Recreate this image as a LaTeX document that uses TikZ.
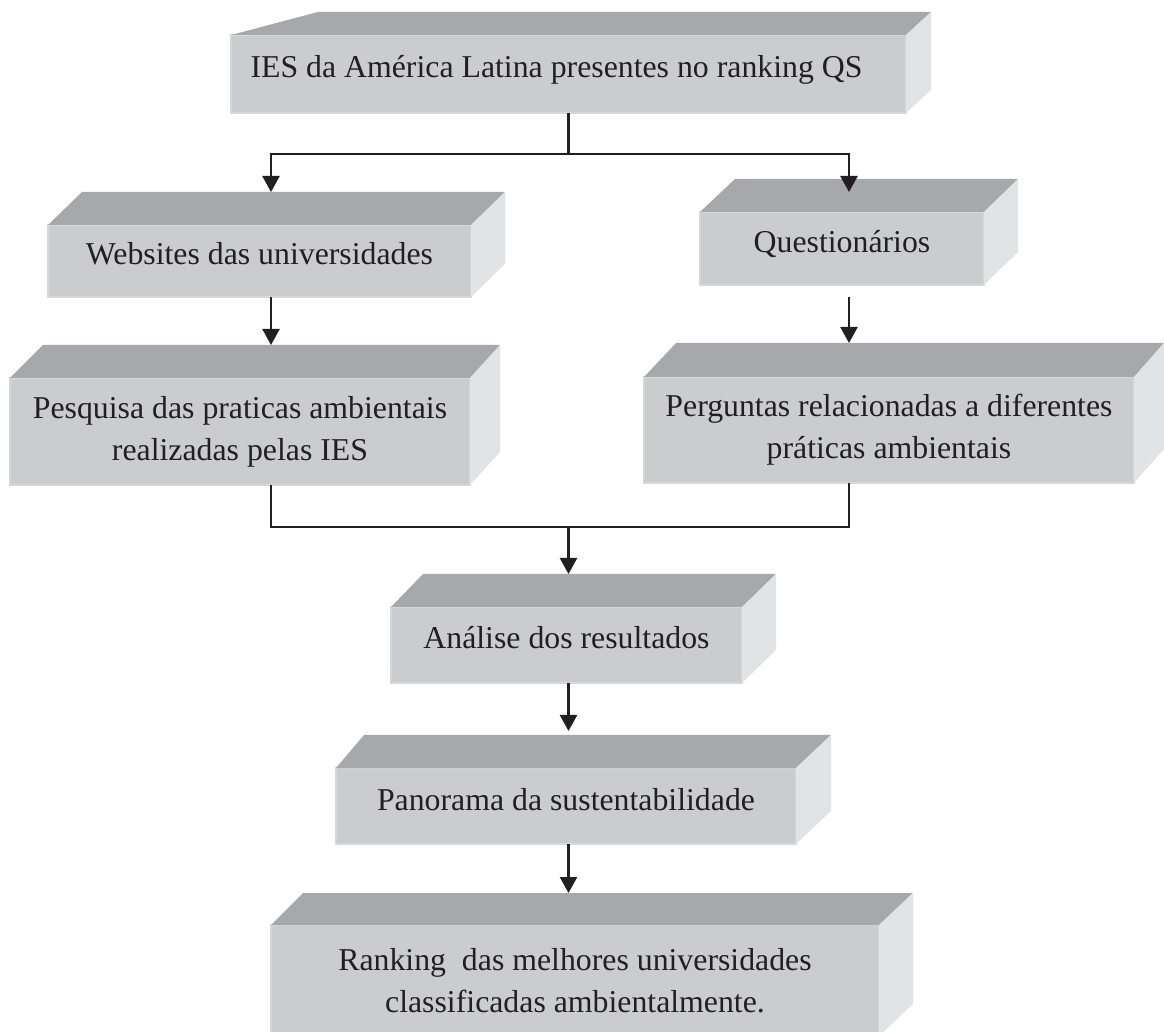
\documentclass[tikz,border=0pt]{standalone}
\usepackage{fontspec}
\setmainfont{Liberation Serif}
\usepackage{xcolor}
\definecolor{frontgray}{RGB}{203,204,206}
\definecolor{topgray}{RGB}{167,168,172}
\definecolor{sidegray}{RGB}{226,227,229}
\definecolor{edgegray}{RGB}{214,215,217}
\definecolor{inkblack}{RGB}{35,31,32}
\usetikzlibrary{arrows.meta}

% top and right faces of a box node: name, left offset, right offset, depth
\newcommand{\boxfaces}[4]{%
  \fill[topgray] (#1.north west) -- ++(#2,-#4) -- ([shift={(#3,-#4)}]#1.north east) -- (#1.north east) -- cycle;
  \fill[sidegray] (#1.north east) -- ++(#3,-#4) -- ([shift={(#3,-#4)}]#1.south east) -- (#1.south east) -- cycle;
  \path (#1.north) ++(0,-#4) coordinate (#1-back);
}

\begin{document}
\begin{tikzpicture}[x=0.5pt, y=-0.5pt,
	cube/.style={fill=frontgray, draw=edgegray, line width=0.8pt, inner sep=0pt, outer sep=0pt,
		align=center, text=inkblack, font=\fontsize{15.9}{21}\selectfont},
	oneline/.style={text height=10.5pt, text depth=6.5pt},
	link/.style={draw=inkblack, line width=1.2pt},
	arrow/.style={link, -{Triangle[length=8pt, width=8.5pt]}}]
				\clip (0,0) rectangle (1164,1032);
				% boxes
				\node[cube, oneline, minimum width=337.5pt, minimum height=39pt] (ies) at (568.5,74) {IES da América Latina presentes no ranking QS\hspace{12pt}};
				\node[cube, oneline, minimum width=211.5pt, minimum height=36pt] (websites) at (259.5,261) {Websites das universidades};
				\node[cube, oneline, minimum width=142pt, minimum height=36.5pt] (quest) at (842,248.5) {Questionários};
				\node[cube, minimum width=230pt, minimum height=53.5pt] (pesquisa) at (240,431.5) {Pesquisa das praticas ambientais\\realizadas pelas IES};
				\node[cube, minimum width=245pt, minimum height=53pt] (perguntas) at (889,430) {Perguntas relacionadas a diferentes\\práticas ambientais};
				\node[cube, oneline, minimum width=175.5pt, minimum height=38pt] (analise) at (566.5,645) {Análise dos resultados};
				\node[cube, oneline, minimum width=230pt, minimum height=38pt] (panorama) at (566,806) {Panorama da sustentabilidade};
				\node[cube, minimum width=304pt, minimum height=55.5pt] (ranking) at (575,980.5) {Ranking~ das melhores universidades\\classificadas ambientalmente.};
				\boxfaces{ies}{87}{25}{23}
				\boxfaces{websites}{34}{34}{33}
				\boxfaces{quest}{35}{34}{33}
				\boxfaces{pesquisa}{33}{30}{33}
				\boxfaces{perguntas}{32}{30}{34}
				\boxfaces{analise}{32}{34}{33}
				\boxfaces{panorama}{28}{35}{33}
				\boxfaces{ranking}{32}{34}{32}
				% connectors
				\coordinate (colL) at (271,0);
				\coordinate (colM) at (568.5,0);
				\coordinate (colR) at (849,0);
				\coordinate (hubtop) at (568.5,154);
				\coordinate (hubmid) at (568.5,527);
				\draw[link] (ies.south -| colM) -- (hubtop);
				\draw[arrow] (hubtop) -| (websites-back -| colL);
				\draw[arrow] (hubtop) -| (websites-back -| colR);
				\draw[arrow] (websites.south -| colL) -- (pesquisa-back -| colL);
				\draw[arrow] ([yshift=-6pt]quest.south -| colR) -- (perguntas-back -| colR);
				\draw[link] (pesquisa.south -| colL) |- (hubmid) -| (perguntas.south -| colR);
				\draw[arrow] (hubmid) -- (analise-back -| colM);
				\draw[arrow] (analise.south -| colM) -- ([yshift=2pt]panorama-back -| colM);
				\draw[arrow] (panorama.south -| colM) -- (ranking-back -| colM);
			\end{tikzpicture}
\end{document}
